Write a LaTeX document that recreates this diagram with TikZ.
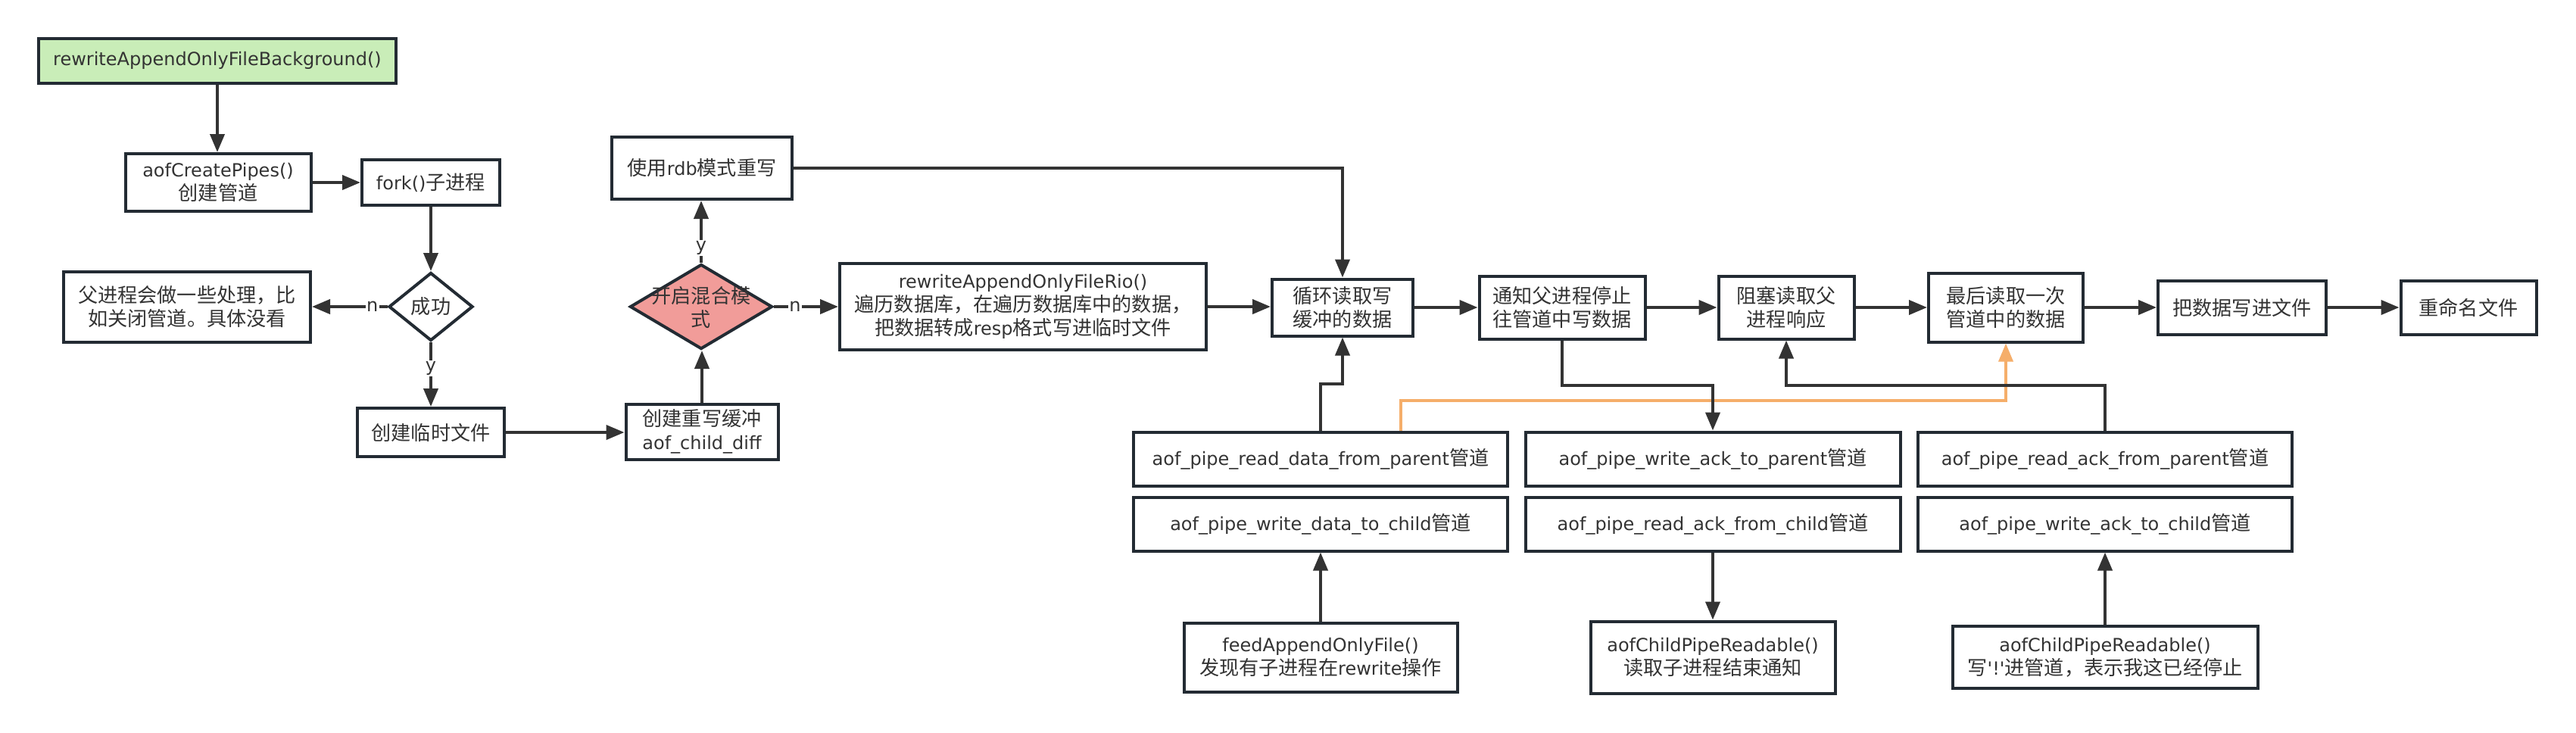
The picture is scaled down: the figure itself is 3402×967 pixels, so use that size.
\documentclass[tikz,border=0pt]{standalone}
\usepackage{fontspec}
\setmainfont{DejaVu Sans}
\newfontfamily\cjk[Scale=1.09]{Noto Sans CJK SC}
\usetikzlibrary{arrows.meta,shapes.geometric}
\newcommand\zh[1]{{\cjk #1}}
\definecolor{bd}{HTML}{232B33}
\definecolor{ln}{HTML}{333333}
\definecolor{txt}{HTML}{333333}
\definecolor{grn}{HTML}{C9EDB8}
\definecolor{pnk}{HTML}{F19C99}
\definecolor{org}{HTML}{F5AE6A}
\tikzset{
  box/.style={draw=bd, line width=4pt, fill=white, text=txt, inner sep=0pt, align=center,
    font=\fontsize{24}{31}\selectfont},
  bx/.style 2 args={box, minimum width=#1pt, minimum height=#2pt},
  dia/.style 2 args={box, shape=diamond, minimum width=#1pt, minimum height=#2pt},
  plain/.style={text=txt, inner sep=0pt, align=center, font=\fontsize{24}{31}\selectfont},
  arr/.style={draw=ln, line width=4pt, -{Triangle[length=24pt,width=19pt]}},
  oarr/.style={draw=org, line width=3.5pt, -{Triangle[length=24pt,width=19pt]}},
  lbl/.style={fill=white, inner sep=1.5pt, text=txt, font=\fontsize{24}{28}\selectfont},
}
\begin{document}
\begin{tikzpicture}[x=1pt,y=-1pt]
\fill[white] (0,0) rectangle (3402,967);
\useasboundingbox (0,0) rectangle (3402,967);

% left part
\node[bx={472}{59}, fill=grn] (bg) at (287,80) {rewriteAppendOnlyFileBackground()};
\node[bx={245}{76}] (pipes) at (288,241) {aofCreatePipes()\\\zh{创建管道}};
\node[bx={182}{60}] (fork) at (569,241) {fork()\zh{子进程}};
\node[dia={111}{90}] (succ) at (569,405) {\zh{成功}};
\node[bx={326}{93}] (parent) at (247,405) {\zh{父进程会做一些处理，比}\\\zh{如关闭管道。具体没看}};
\node[bx={194}{64}] (tmp) at (569,571) {\zh{创建临时文件}};
\node[bx={201}{73}] (diff) at (927,570) {\zh{创建重写缓冲}\\aof\_child\_diff};
\node[dia={188}{112}, fill=pnk] (mix) at (926,405) {};
\node[plain] (mixtxt) at (926,406) {\zh{开启混合模}\\\zh{式}};
\node[bx={238}{82}] (rdb) at (927,222) {\zh{使用}rdb\zh{模式重写}};
\node[bx={484}{114}] (rio) at (1351,405) {rewriteAppendOnlyFileRio()\\\zh{遍历数据库，在遍历数据库中的数据，}\\\zh{把数据转成}resp\zh{格式写进临时文件}};

% main flow
\node[bx={186}{75}] (loop) at (1773,406) {\zh{循环读取写}\\\zh{缓冲的数据}};
\node[bx={219}{83}] (notify) at (2063,406) {\zh{通知父进程停止}\\\zh{往管道中写数据}};
\node[bx={179}{83}] (block) at (2359,406) {\zh{阻塞读取父}\\\zh{进程响应}};
\node[bx={204}{91}] (last) at (2649,406) {\zh{最后读取一次}\\\zh{管道中的数据}};
\node[bx={222}{71}] (write) at (2961,406) {\zh{把数据写进文件}};
\node[bx={179}{71}] (rename) at (3260,406) {\zh{重命名文件}};

% pipes
\node[bx={494}{71}] (rdp) at (1744,606) {aof\_pipe\_read\_data\_from\_parent\zh{管道}};
\node[bx={494}{71}] (wdc) at (1744,692) {aof\_pipe\_write\_data\_to\_child\zh{管道}};
\node[bx={361}{91}] (feed) at (1744,868) {feedAppendOnlyFile()\\\zh{发现有子进程在}rewrite\zh{操作}};
\node[bx={495}{71}] (wap) at (2262,606) {aof\_pipe\_write\_ack\_to\_parent\zh{管道}};
\node[bx={495}{71}] (rac) at (2262,692) {aof\_pipe\_read\_ack\_from\_child\zh{管道}};
\node[bx={323}{95}] (cpr1) at (2262,868) {aofChildPipeReadable()\\\zh{读取子进程结束通知}};
\node[bx={494}{71}] (rap) at (2780,606) {aof\_pipe\_read\_ack\_from\_parent\zh{管道}};
\node[bx={494}{71}] (wac) at (2780,692) {aof\_pipe\_write\_ack\_to\_child\zh{管道}};
\node[bx={403}{82}] (cpr2) at (2780,868) {aofChildPipeReadable()\\\zh{写}\textquotesingle!\textquotesingle\zh{进管道，表示我这已经停止}};

\coordinate (j1) at (1773,507);
\coordinate (j2) at (2262,509);
\coordinate (j3) at (2359,509);
\coordinate (o1) at (1850,529);

% connectors
\draw[arr] (bg.south) -- (bg.south |- pipes.north);
\draw[arr] (pipes.east) -- (pipes.east -| fork.west);
\draw[arr] (fork.south) -- (succ.north);
\draw[arr] (succ.west) -- node[lbl, pos=0.2] {n} (succ.west -| parent.east);
\draw[arr] (succ.south) -- node[lbl, pos=0.41] {y} (tmp.north);
\draw[arr] (tmp.east) -- (tmp.east -| diff.west);
\draw[arr] (diff.north) -- (diff.north |- mix.south);
\draw[arr] (mix.north) -- node[lbl, pos=0.24] {y} (mix.north |- rdb.south);
\draw[arr] (mix.east) -- node[lbl, pos=0.33] {n} (mix.east -| rio.west);
\draw[arr] (rio.east) -- (rio.east -| loop.west);
\draw[arr] (rdb.east) -| (loop.north);
\draw[arr] (loop.east) -- (notify.west);
\draw[arr] (notify.east) -- (block.west);
\draw[arr] (block.east) -- (last.west);
\draw[arr] (last.east) -- (write.west);
\draw[arr] (write.east) -- (rename.west);
\draw[oarr] (o1 |- rdp.north) -- (o1) -| (last.south);
\draw[arr] (rdp.north) |- (j1) -- (loop.south);
\draw[arr] (notify.south) |- (j2) -- (wap.north);
\draw[arr] (rap.north) |- (j3) -- (block.south);
\draw[arr] (feed.north) -- (wdc.south);
\draw[arr] (rac.south) -- (cpr1.north);
\draw[arr] (cpr2.north) -- (wac.south);
\end{tikzpicture}
\end{document}
